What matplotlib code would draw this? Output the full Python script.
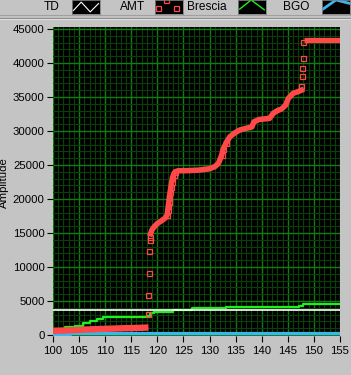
import matplotlib; matplotlib.use("Agg")
import matplotlib.pyplot as plt
import numpy as np

plt.rcParams.update({"font.family": ["Liberation Sans", "DejaVu Sans"]})

BG = "#C4C4C4"; RED = "#FF4848"; GRN = "#1EF01E"; BLU = "#3CB4F0"

# --- data ---
td_x = [100, 155]
td_y = [3700, 3700]

bgo_x = [100, 103.3, 155]
bgo_y = [120, 220, 220]

brescia_x = [100, 102.3, 104.2, 105.8, 107.1, 108.4, 109.6, 110.0, 118.0, 118.6, 119.4,
             123.0, 126.6, 133.1, 141.9, 147.2, 148.0, 155]
brescia_y = [840, 1130, 1370, 1720, 2060, 2350, 2600, 2700, 2800, 3190, 3430,
             3680, 3920, 4070, 4160, 4300, 4500, 4500]

amt_low_x = [100, 102, 104, 106, 108, 110, 112, 114, 116, 118.3]
amt_low_y = [600, 650, 720, 790, 850, 900, 950, 1000, 1030, 1100]
amt_jump1_x = [118.26, 118.3, 118.45, 118.45, 118.6, 118.6]
amt_jump1_y = [3090, 5840, 9070, 12300, 13970, 14460]
amt_mid_x = [118.7, 119.0, 119.5, 120.0, 120.8, 121.5, 121.9, 122.0, 122.1, 122.2, 122.3,
             122.45, 122.6, 122.75, 122.9, 123.1, 123.4, 124.0, 125.0, 126.0, 128.0,
             130.0, 131.0, 131.7, 132.3, 132.6, 133.2, 133.9, 134.8, 135.8, 137.0,
             138.1, 138.5, 139.5, 141.5, 142.2, 143.0, 143.8, 144.6, 145.1, 146.0, 147.0, 147.6]
amt_mid_y = [14900, 15500, 16000, 16400, 16800, 17200, 17700, 18400, 18900, 19600, 20300,
             21000, 21800, 22500, 23100, 23600, 24000, 24160, 24160, 24180, 24250,
             24450, 24750, 25240, 26400, 27300, 28300, 29160, 29700, 30150, 30400,
             30600, 31350, 31700, 31860, 32600, 33000, 33240, 33820, 34800, 35540, 35800, 36000]
amt_jump2_x = [147.6, 147.7, 147.8, 148.0, 148.0]
amt_jump2_y = [36620, 38090, 39220, 40690, 43040]
amt_top_x = [148.1, 155]
amt_top_y = [43400, 43400]

x_ticks = list(range(100, 160, 5))
y_ticks = list(range(0, 50000, 5000))

fig = plt.figure(figsize=(3.51, 3.75), dpi=100, facecolor=BG)
ax = fig.add_axes([53/351, (375-336)/375, 287/351, 309/375], facecolor="black")
ax.set_xlim(100, 155); ax.set_ylim(-150, 45300)

ax.set_xticks(np.arange(100, 156, 1), minor=True)
ax.set_yticks(np.arange(0, 45001, 1000), minor=True)
ax.set_xticks(x_ticks); ax.set_yticks(y_ticks)
ax.grid(which="minor", color="#093F09", lw=0.8)
ax.grid(which="major", color="#0F7D0F", lw=1.0)
ax.set_axisbelow(True)
ax.tick_params(which="minor", length=0)
ax.tick_params(which="major", length=4.5, width=0.8, color="black", labelsize=8.2, pad=1.5)
ax.tick_params(axis="x", pad=3)
for s in ax.spines.values(): s.set_visible(False)

ms = dict(marker="s", ms=3.6, mfc="none", mec=RED, mew=0.9)
ax.plot(bgo_x, bgo_y, color=BLU, lw=2.3, drawstyle="steps-post")
ax.plot(brescia_x, brescia_y, color=GRN, lw=1.6, drawstyle="steps-post")
ax.plot(td_x, td_y, color="white", lw=1.2)
ax.plot(amt_low_x, amt_low_y, color=RED, lw=4.6, solid_capstyle="butt")
ax.plot(amt_mid_x, amt_mid_y, color=RED, lw=4.0, markevery=list(range(6, 17)) + [24, 25, 26], **ms)
ax.plot(amt_jump1_x, amt_jump1_y, ls="none", **ms)
ax.plot(amt_jump2_x, amt_jump2_y, ls="none", **ms)
ax.plot(amt_top_x, amt_top_y, color=RED, lw=3.8, solid_capstyle="butt")

fig.text(4/351, (375-183)/375, "Amplitude", rotation=90, ha="center", va="center", fontsize=8.2)

# --- top legend strip ---
fig.add_artist(plt.Line2D([0, 1], [1-14.5/375]*2, color="#A0A0A0", lw=0.8))
fig.add_artist(plt.Line2D([0, 1], [1-18.3/375]*2, color="#8C8C8C", lw=0.8))
fig.add_artist(plt.Line2D([0, 1], [1-19.3/375]*2, color="#E0E0E0", lw=0.7))
labels = ["TD", "AMT", "Brescia", "BGO"]
label_right = [60, 145, 227, 309]
swatch_left = [72, 155, 238, 322]
for lab, xr in zip(labels, label_right):
    fig.text(xr/351, 1-9.5/375, lab, ha="right", va="baseline", fontsize=8.6)
sw = []
for xl in swatch_left:
    a = fig.add_axes([xl/351, 1-14/375, 28/351, 14/375], facecolor="black")
    a.set_xlim(0, 1); a.set_ylim(0, 1); a.set_xticks([]); a.set_yticks([])
    for s in a.spines.values(): s.set_color("#808080"); s.set_linewidth(0.6)
    sw.append(a)
sw[0].plot([0.05, 0.33, 0.65, 0.95], [0.25, 0.85, 0.15, 0.75], color="white", lw=0.8)
sw[1].plot([0.4, 0.12, 0.74], [1.0, 0.4, 0.4], ls="none", **ms)
sw[2].plot([0.06, 0.47, 0.94], [0.35, 1.0, 0.3], color=GRN, lw=1.0)
sw[3].plot([0.0, 0.5, 1.0], [0.3, 1.0, 0.75], color=BLU, lw=2.0)

fig.savefig("out.png", dpi=100, facecolor=BG)
